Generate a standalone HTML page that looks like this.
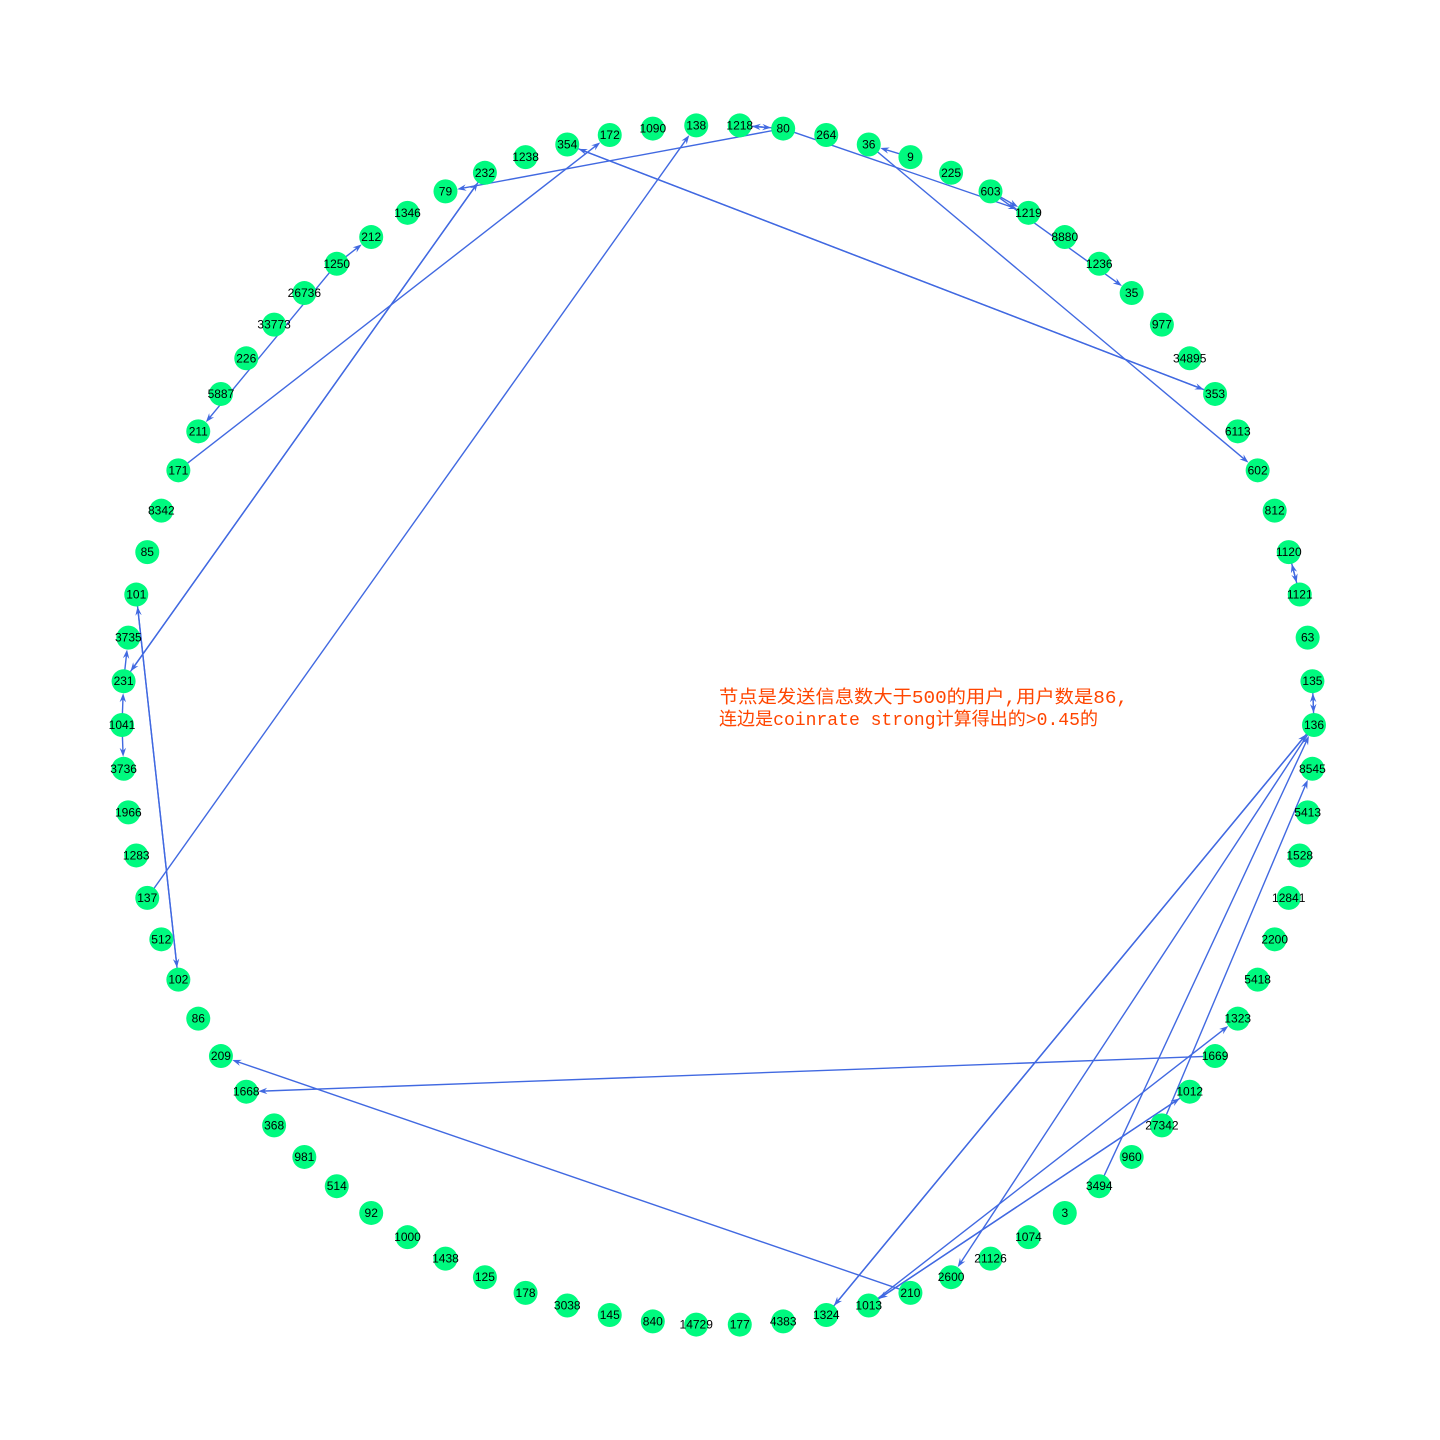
<!DOCTYPE html>
<html><head><meta charset="utf-8"><style>
body{margin:0;background:#fff;}
svg{display:block;}
</style></head><body>
<svg id="chart" width="1440" height="1440" viewBox="0 0 1440 1440" xmlns="http://www.w3.org/2000/svg">
<g id="edges"></g>
<g id="nodes"></g>
<text x="719" y="703" fill="#ff4500" font-size="18" textLength="409" lengthAdjust="spacingAndGlyphs" font-family="'Liberation Mono','Noto Sans CJK SC',monospace">节点是发送信息数大于500的用户,用户数是86,</text>
<text x="719" y="725" fill="#ff4500" font-size="18" textLength="379" lengthAdjust="spacingAndGlyphs" font-family="'Liberation Mono','Noto Sans CJK SC',monospace">连边是coinrate strong计算得出的&gt;0.45的</text>
</svg>
<script>
const nodeLabels=["136","135","63","1121","1120","812","602","6113","353","34895","977","35","1236","8880","1219","603","225","9","36","264","80","1218","138","1090","172","354","1238","232","79","1346","212","1250","26736","33773","226","5887","211","171","8342","85","101","3735","231","1041","3736","1966","1283","137","512","102","86","209","1668","368","981","514","92","1000","1438","125","178","3038","145","840","14729","177","4383","1324","1013","210","2600","21126","1074","3","3494","960","27342","1012","1669","1323","5418","2200","12841","1528","5413","8545"];
const edgeSources=["1218","80","80","80","603","9","36","603","354","353","171","137","232","231","1250","1250","101","102","231","1041","1041","1669","210","1120","1121","135","136","1324","136","3494","27342","1013","1012","1013","136"];
const edgeTargets=["80","1218","79","1219","1219","36","602","35","353","354","172","138","231","232","212","211","102","101","3735","3736","231","1668","209","1121","1120","136","135","136","2600","136","8545","1323","1013","1012","1324"];
const cx=718,cy=725,RX=596,RY=600,NR=12;
const ns="http://www.w3.org/2000/svg";
const pos={};
nodeLabels.forEach((l,i)=>{const a=2*Math.PI*i/nodeLabels.length;pos[l]=[cx+RX*Math.cos(a),cy-RY*Math.sin(a)];});
const eg=document.getElementById('edges'),ng=document.getElementById('nodes');
edgeSources.forEach((s,i)=>{
  const t=edgeTargets[i];const [x1,y1]=pos[s],[x2,y2]=pos[t];
  const dx=x2-x1,dy=y2-y1,L=Math.hypot(dx,dy),ux=dx/L,uy=dy/L;
  const ex=x2-ux*NR,ey=y2-uy*NR;
  const g=document.createElementNS(ns,'g');
  
  
  const ln=document.createElementNS(ns,'line');
  ln.setAttribute('x1',x1);ln.setAttribute('y1',y1);ln.setAttribute('x2',ex-ux*4);ln.setAttribute('y2',ey-uy*4);
  ln.setAttribute('stroke','#4169e1');ln.setAttribute('stroke-width','1.4');
  g.appendChild(ln);
  const bx=ex-ux*9,by=ey-uy*9,px=-uy*3.2,py=ux*3.2;
  const ah=document.createElementNS(ns,'polygon');
  ah.setAttribute('points',`${ex},${ey} ${bx+px},${by+py} ${ex-ux*6},${ey-uy*6} ${bx-px},${by-py}`);
  ah.setAttribute('fill','#4169e1');
  g.appendChild(ah);
  eg.appendChild(g);
});
nodeLabels.forEach(l=>{
  const [x,y]=pos[l];
  const g=document.createElementNS(ns,'g');
  
  
  const c=document.createElementNS(ns,'circle');
  c.setAttribute('cx',x);c.setAttribute('cy',y);c.setAttribute('r',NR);c.setAttribute('fill','#00fa7f');
  g.appendChild(c);
  const t=document.createElementNS(ns,'text');
  t.setAttribute('x',x);t.setAttribute('y',y+4);t.setAttribute('text-anchor','middle');
  t.setAttribute('font-size','12');t.setAttribute('font-family',"'Liberation Sans Narrow','Liberation Sans',sans-serif");
  t.textContent=l;
  g.appendChild(t);
  ng.appendChild(g);
});
</script>
</body></html>
